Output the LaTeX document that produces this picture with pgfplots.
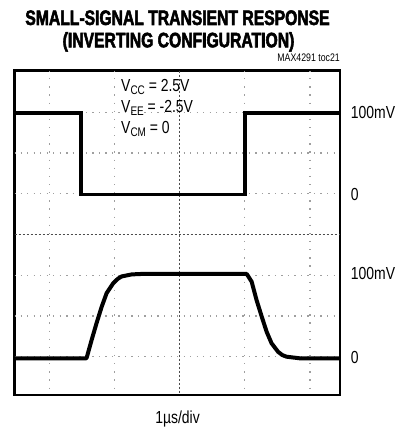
\documentclass[border=0pt]{standalone}
\usepackage{fontspec}
\setmainfont{Liberation Sans}[FakeStretch=0.8]
\newfontfamily\titlefont{Liberation Sans}[FakeStretch=0.75, FakeBold=2.5]
\usepackage{pgfplots}
\pgfplotsset{compat=1.18}
\newcommand{\sub}[1]{\raisebox{-2.8bp}{\fontsize{12.5}{12.5}\selectfont #1}}
\begin{document}
\begin{tikzpicture}[x=1bp,y=1bp]
\path[use as bounding box] (0,0) rectangle (406,428);
\begin{axis}[
  at={(14.7bp,33bp)}, anchor=south west,
  scale only axis, width=325.3bp, height=324.3bp,
  xmin=-0.06, xmax=9.92, ymin=0.06, ymax=8.02,
  axis line style={line width=2.4bp},
  xtick=\empty, ytick=\empty,
  clip=true,
]
% grid
\pgfplotsinvokeforeach{1,3,7,9}{
  \draw[gray!75, line width=1.3bp, dash pattern=on 1.3bp off 6.84bp, dash phase=0.65bp]
    (axis cs:#1,8.02) -- (axis cs:#1,0.06);
}
\pgfplotsinvokeforeach{1,2,3,5,6,7}{
  \draw[gray!75, line width=1.3bp, dash pattern=on 1.3bp off 5.22bp, dash phase=0.65bp]
    (axis cs:-0.06,#1) -- (axis cs:9.92,#1);
}
\draw[black!70, line width=1bp, dash pattern=on 2.5bp off 1.5bp]
  (axis cs:5,8.02) -- (axis cs:5,0.06);
\draw[black!70, line width=1bp, dash pattern=on 2.5bp off 1.5bp]
  (axis cs:-0.06,4) -- (axis cs:9.92,4);
% input (top trace)
\addplot[black, line width=3.6bp, line join=miter] coordinates {
  (-0.06,6.98) (1.97,6.98) (1.97,4.98) (7.0,4.98) (7.0,6.98) (9.92,6.98)
};
% output (bottom trace)
\addplot[black, line width=4bp, line join=round] coordinates {
  (-0.06,0.96) (2.13,0.96) (2.15,0.98) (2.30,1.41) (2.45,1.82) (2.61,2.23)
  (2.76,2.56) (2.96,2.80) (3.10,2.91) (3.22,2.97) (3.53,3.02) (3.8,3.03)
  (7.06,3.03) (7.21,2.84) (7.36,2.39) (7.52,1.98) (7.67,1.61) (7.82,1.33)
  (8.02,1.12) (8.15,1.04) (8.28,1.0) (8.69,0.96) (9.92,0.96)
};
\end{axis}
% titles and labels
\node[font=\titlefont\bfseries\fontsize{21}{21}\selectfont, anchor=base, inner sep=0] at (177.5,403) {SMALL-SIGNAL TRANSIENT RESPONSE};
\node[font=\titlefont\bfseries\fontsize{21}{21}\selectfont, anchor=base, inner sep=0] at (178.5,380.7) {(INVERTING CONFIGURATION)};
\node[font=\fontsize{11}{11}\selectfont, anchor=base east, inner sep=0] at (340,366.3) {MAX4291 toc21};
\begin{scope}[every node/.style={font=\fontsize{17.5}{17.5}\selectfont, inner sep=0}]
\node[anchor=base west] at (121,336.5) {V\sub{CC} = 2.5V};
\node[anchor=base west] at (121,315.5) {V\sub{EE} = -2.5V};
\node[anchor=base west] at (121,294.5) {V\sub{CM} = 0};
\node[anchor=west] at (350.7,315.2) {100mV};
\node[anchor=west] at (350.7,233.5) {0};
\node[anchor=west] at (350.7,154.7) {100mV};
\node[anchor=west] at (350.7,71) {0};
\node[anchor=base] at (177.5,4.7) {1µs/div};
\end{scope}
\end{tikzpicture}
\end{document}
